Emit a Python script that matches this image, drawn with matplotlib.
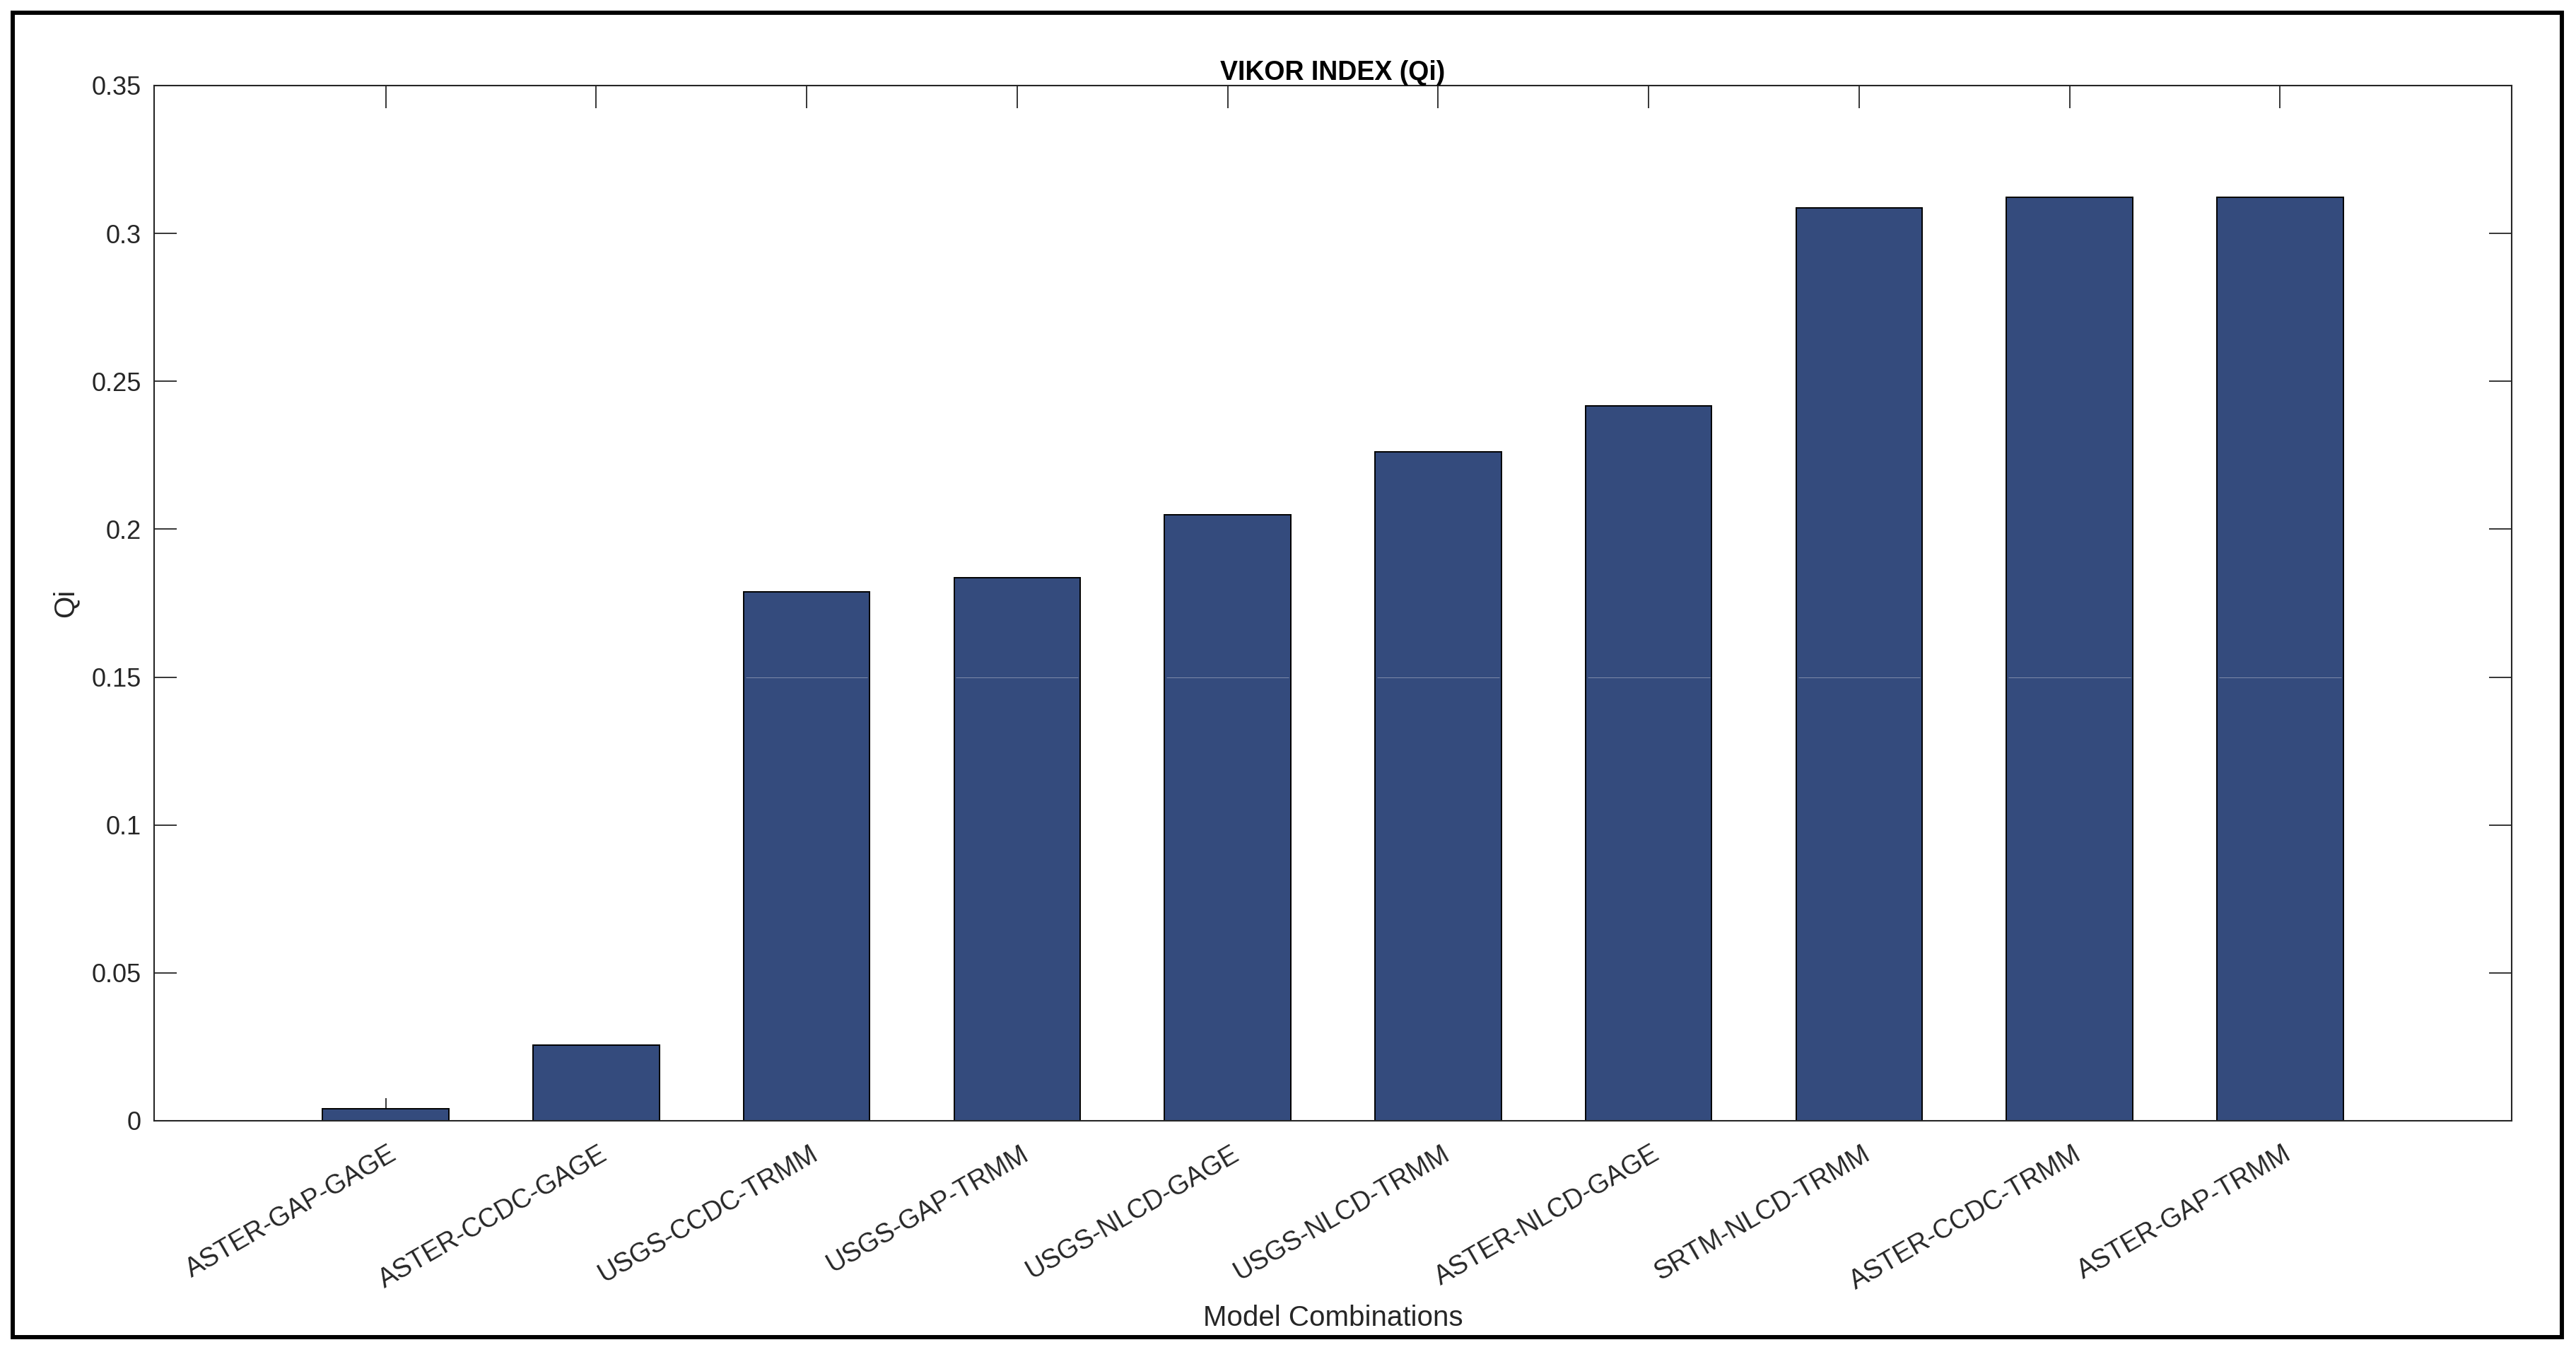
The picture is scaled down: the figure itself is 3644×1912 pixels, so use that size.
import numpy as np
import matplotlib
matplotlib.use('Agg')
from matplotlib import pyplot as plt
from matplotlib import patches, transforms

plt.rcParams['font.family'] = ['Liberation Sans', 'DejaVu Sans']

# data
combos = ['ASTER-GAP-GAGE', 'ASTER-CCDC-GAGE', 'USGS-CCDC-TRMM', 'USGS-GAP-TRMM',
          'USGS-NLCD-GAGE', 'USGS-NLCD-TRMM', 'ASTER-NLCD-GAGE', 'SRTM-NLCD-TRMM',
          'ASTER-CCDC-TRMM', 'ASTER-GAP-TRMM']
qi = [0.0041, 0.0256, 0.1788, 0.1836, 0.2049, 0.2262, 0.2417, 0.3086, 0.3122, 0.3122]
yticks = [0, 0.05, 0.1, 0.15, 0.2, 0.25, 0.3, 0.35]
ytick_labels = ['0', '0.05', '0.1', '0.15', '0.2', '0.25', '0.3', '0.35']

W, H = 3644, 1912
dark = '#262626'
bar_color = '#344b7d'

fig = plt.figure(figsize=(W / 100, H / 100), dpi=100)
fig.patch.set_facecolor('white')

# axes box in pixels: left 218, right 3553, top 121, bottom 1585
ax = fig.add_axes([218 / W, 1 - 1585 / H, (3553 - 218) / W, (1585 - 121) / H])

x = np.arange(1, len(qi) + 1)
bw = 0.6
ax.bar(x, qi, width=bw, color=bar_color, edgecolor='black', linewidth=1.4, zorder=2)

# faint seam across the taller bars
tall = [i for i, v in enumerate(qi) if v > 0.15]
ax.hlines([0.15] * len(tall), x[tall] - bw / 2 + 0.01, x[tall] + bw / 2 - 0.01,
          color='#7f8bab', linewidth=0.7, zorder=3)

ax.set_xlim(-0.1, 11.1)
ax.set_ylim(0, 0.35)
ax.set_yticks(yticks)
ax.set_yticklabels(ytick_labels)
ax.set_xticks(x)
ax.set_xticklabels(combos, rotation=30, ha='right', rotation_mode='default')

ax.tick_params(axis='both', which='major', direction='in', length=23, width=1.3,
               color=dark, labelcolor=dark, labelsize=26, top=True, right=True)
ax.tick_params(axis='y', pad=13)
ax.tick_params(axis='x', pad=21, labelsize=27)

# nudge rotated labels right so their end sits just past the tick
offset = transforms.ScaledTranslation(22 / 100, 0, fig.dpi_scale_trans)
for lab in ax.get_xticklabels():
    lab.set_transform(lab.get_transform() + offset)

for sp in ax.spines.values():
    sp.set_color(dark)
    sp.set_linewidth(1.5)

ax.set_title('VIKOR INDEX (Qi)', fontsize=27, fontweight='bold', color='black', pad=6)
ax.set_ylabel('Qi', fontsize=29, color=dark, va='center')
ax.yaxis.set_label_coords((92 - 218) / (3553 - 218), 0.5)
ax.set_xlabel('Model Combinations', fontsize=29, color=dark, va='baseline')
ax.xaxis.set_label_coords(0.5, (1585 - 1875) / (1585 - 121))

# black frame around the whole figure
frame = patches.Rectangle((18 / W, 1 - 1891 / H), (3624 - 18) / W, (1891 - 18) / H,
                          transform=fig.transFigure, fill=False, edgecolor='black',
                          linewidth=4.3)
fig.patches.append(frame)

fig.savefig('out.png', dpi=100)
